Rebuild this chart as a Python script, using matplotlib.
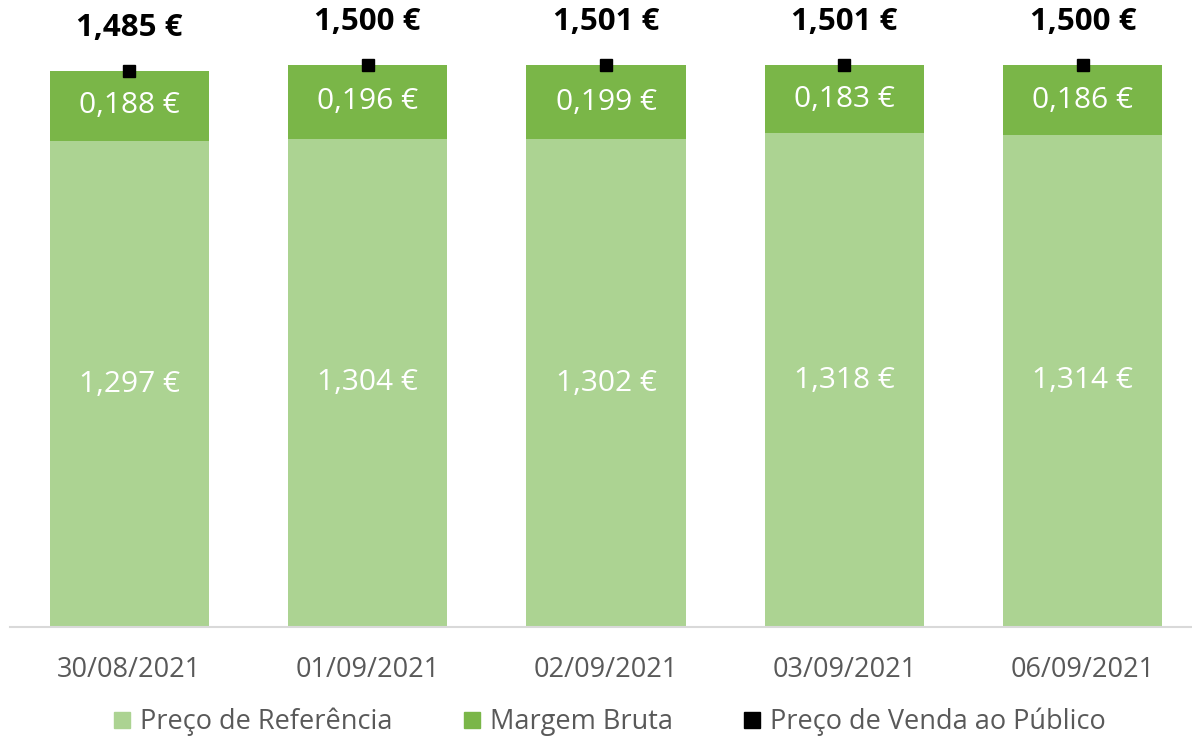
# -*- coding: utf-8 -*-

import numpy as np
from matplotlib import pyplot as plt
from matplotlib.lines import Line2D

# data
dates = ["30/08/2021", "01/09/2021", "02/09/2021", "03/09/2021", "06/09/2021"]
preco_referencia = [1.297, 1.304, 1.302, 1.318, 1.314]
margem_bruta = [0.188, 0.196, 0.199, 0.183, 0.186]
pvp = [1.485, 1.500, 1.501, 1.501, 1.500]

light_green = "#ACD392"
dark_green = "#7AB648"
grey = "#595959"

plt.rcParams['font.family'] = ['Open Sans', 'DejaVu Sans']


def fmt(v):
    return ("%.3f €" % v).replace(".", ",")


fig = plt.figure(figsize=(11.92, 7.38), dpi=100)
# axes placed in pixels: left 10, bottom 111, top 0
ax = fig.add_axes([10 / 1192, 111 / 738, 1192 / 1192, 627 / 738])

x = np.arange(len(dates))
width = 0.668

bars1 = ax.bar(x, preco_referencia, width=width, color=light_green)
bars2 = ax.bar(x, margem_bruta, width=width, bottom=preco_referencia, color=dark_green)
ax.plot(x, pvp, linestyle="none", marker="s", markersize=9, color="black")

for xi, r, m, p in zip(x, preco_referencia, margem_bruta, pvp):
    ax.text(xi, r / 2, fmt(r), ha="center", va="center", color="white", fontsize=21.5)
    ax.text(xi, r + m / 2, fmt(m), ha="center", va="center", color="white", fontsize=21.5)
    ax.annotate(fmt(p), (xi, p), xytext=(0, 31), textcoords="offset points",
                ha="center", va="center", fontsize=22.5, fontweight="bold", color="black")

ax.set_xlim(-0.5, 4.5)
ax.set_ylim(0, 1.674)
ax.set_xticks(x)
ax.set_xticklabels(dates, fontsize=19.5, color=grey)
ax.tick_params(axis="x", length=0, pad=21)
ax.set_yticks([])
for s in ["top", "right", "left"]:
    ax.spines[s].set_visible(False)
ax.spines["bottom"].set_color("#D9D9D9")
ax.spines["bottom"].set_linewidth(1.5)

handles = [
    Line2D([], [], linestyle="none", marker="s", markersize=12, color=light_green),
    Line2D([], [], linestyle="none", marker="s", markersize=12, color=dark_green),
    Line2D([], [], linestyle="none", marker="s", markersize=12, color="black"),
]
labels = ["Preço de Referência", "Margem Bruta", "Preço de Venda ao Público"]
leg = fig.legend(handles, labels, loc="center", bbox_to_anchor=(0.511, 16 / 738), ncol=3,
                 frameon=False, fontsize=19.5, handlelength=0.7, handletextpad=0.3,
                 columnspacing=2.6)
for t in leg.get_texts():
    t.set_color(grey)

plt.savefig("out.png", dpi=100)
